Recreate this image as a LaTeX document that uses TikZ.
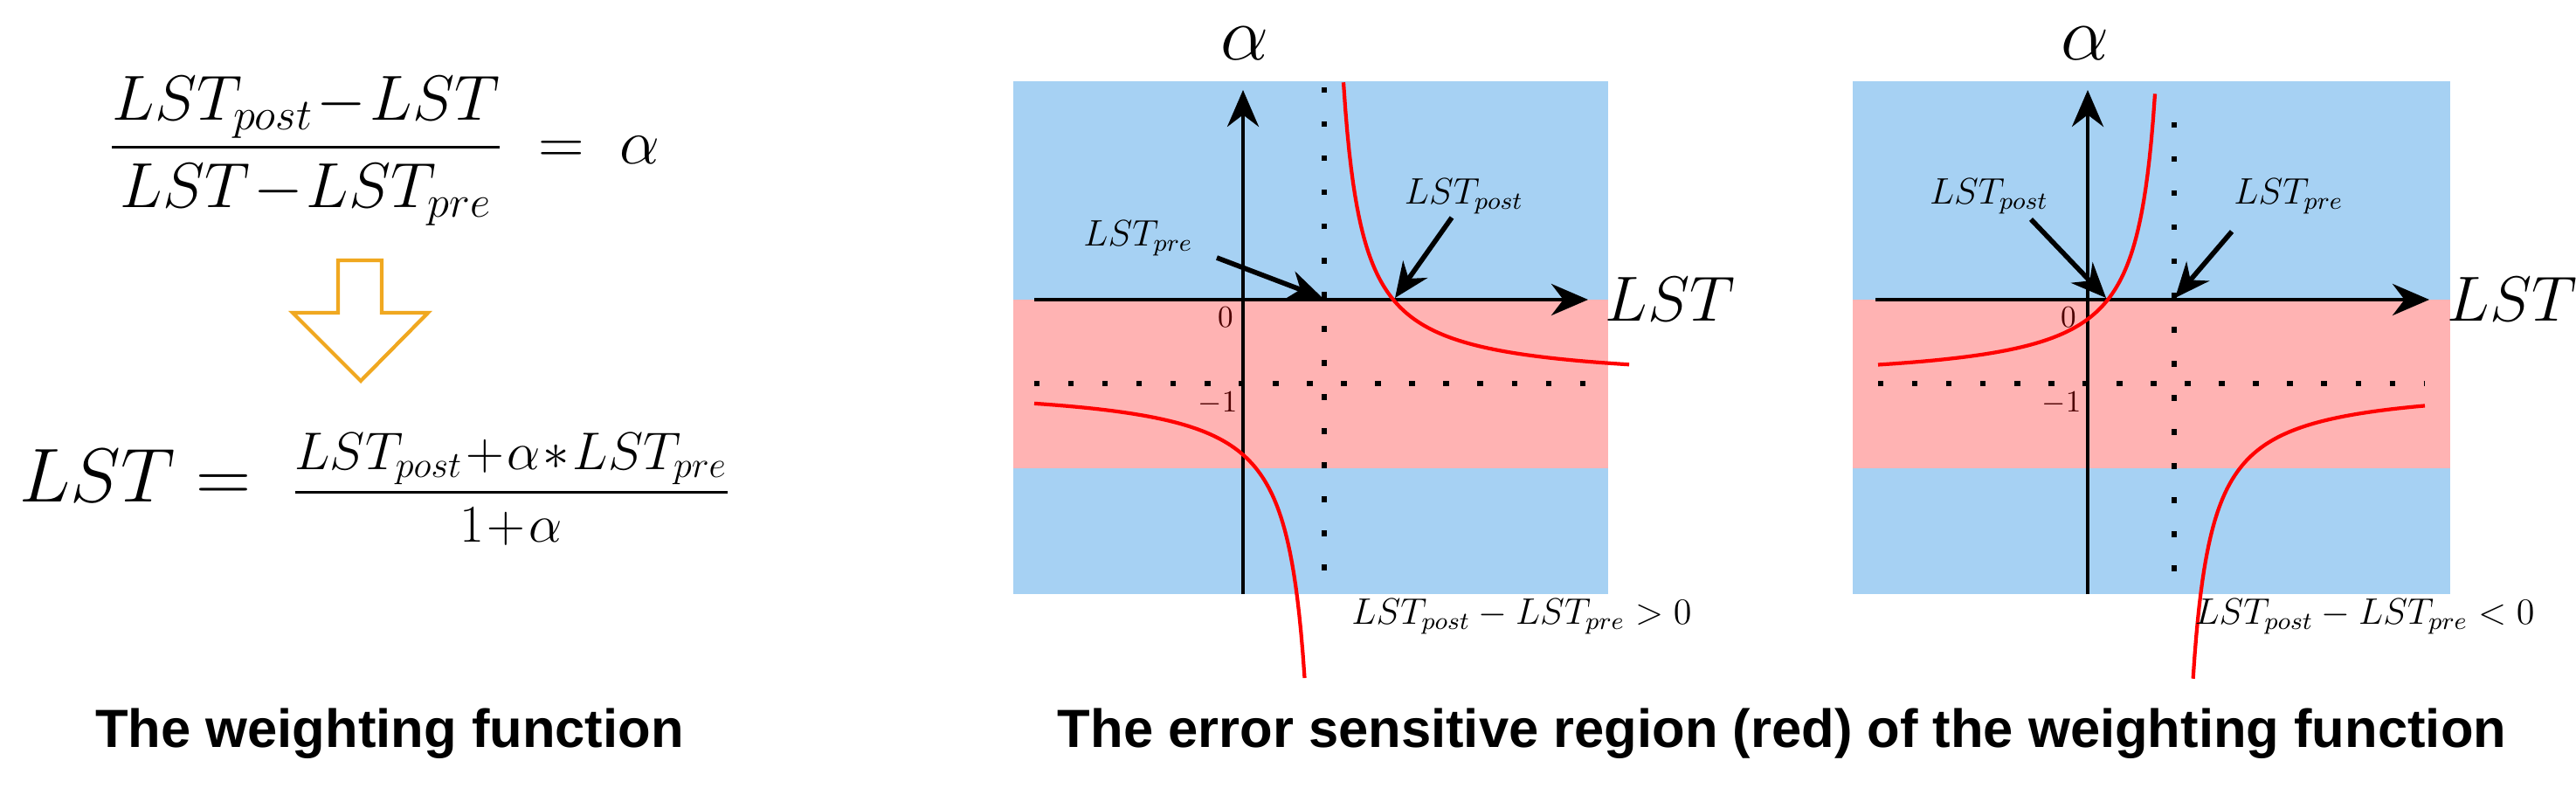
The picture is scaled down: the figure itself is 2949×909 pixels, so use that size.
\documentclass[tikz,border=0pt]{standalone}
\usepackage{fontspec}
\usepackage{amsmath}
\newfontfamily\capfont{Liberation Sans}
\usetikzlibrary{arrows.meta}
\definecolor{bluebg}{HTML}{A6D1F3}
\definecolor{redbg}{HTML}{FFB3B3}
\definecolor{arrorange}{HTML}{F0A820}
\tikzset{
  axisline/.style={line width=1.3pt,-{Stealth[length=0.42cm,width=0.36cm]}},
  ptr/.style={line width=1.6pt,-{Stealth[length=0.4cm,width=0.34cm]}},
  dotline/.style={line width=1.8pt,dash pattern=on 1.8pt off 9.3pt},
  curve/.style={red,line width=1.2pt},
  caption/.style={font=\capfont\bfseries\fontsize{17.5}{21}\selectfont},
  small/.style={font=\fontsize{12}{14}\selectfont},
  tick/.style={font=\fontsize{10}{12}\selectfont,text=black!70!red},
}
\begin{document}
\begin{tikzpicture}[x=0.01cm,y=-0.01cm]
\useasboundingbox (0,0) rectangle (2949,909);
% ---- left: the weighting function
\node (f1) at (440,173) {\fontsize{20}{24}\selectfont$\dfrac{LST_{post}\!-\!LST}{LST\!-\!LST_{pre}}\;=\;\alpha$};
\draw[arrorange,line width=1.2pt] (387,298) -- (437,298) -- (437,358) -- (490,358) -- (413,436) -- (335,358) -- (387,358) -- cycle;
\node[anchor=west] (lst) at (10,545) {\fontsize{24}{28}\selectfont$LST=$};
\node (f2) at (585,560) {\fontsize{17.5}{20}\selectfont$\dfrac{LST_{post}\!+\!\alpha\!*\!LST_{pre}}{1\!+\!\alpha}$};
\node[caption] (c1) at (446,840) {The weighting function};
\node[caption] (c2) at (2040,840) {The error sensitive region (red) of the weighting function};
% ---- panel A
\fill[bluebg] (1160,93) rectangle (1841,680);
\fill[redbg] (1160,343) rectangle (1841,536);
\draw[dotline] (1516,100) -- (1516,680);
\draw[dotline] (1184,439) -- (1815,439);
\coordinate (ax0) at (1423,680);
\coordinate (ax1) at (1423,103);
\coordinate (bx0) at (1184,343);
\coordinate (bx1) at (1818,343);
\draw[axisline] (ax0) -- (ax1);
\draw[axisline] (bx0) -- (bx1);
\draw[curve] plot[domain=1538:1865,samples=150] (\x,{439-7584/(\x-1516)});
\draw[curve] plot[domain=1184:1493.5,samples=150] (\x,{439-7584/(\x-1516)});
\node (aA) at (1425,50) {\fontsize{28}{32}\selectfont$\alpha$};
\node (lA) at (1912,343) {\fontsize{22}{26}\selectfont$LST$};
\node[tick] (zA) at (1403,363) {$0$};
\node[tick] (mA) at (1394,462) {$-1$};
\node[small] (preA) at (1303,273) {$LST_{pre}$};
\node[small] (postA) at (1676,225) {$LST_{post}$};
\coordinate (preAt) at (1514,341);
\coordinate (postAt) at (1597,341);
\draw[ptr] (1393,295) -- (preAt);
\draw[ptr] (1662,249) -- (postAt);
\node[small] (condA) at (1742,706) {$LST_{post}-LST_{pre}>0$};
% ---- panel B
\fill[bluebg] (2121,93) rectangle (2805,680);
\fill[redbg] (2121,343) rectangle (2805,536);
\draw[dotline] (2489,140) -- (2489,680);
\draw[dotline] (2150,439) -- (2776,439);
\coordinate (cx0) at (2390,680);
\coordinate (cx1) at (2390,103);
\coordinate (dx0) at (2147,343);
\coordinate (dx1) at (2781,343);
\draw[axisline] (cx0) -- (cx1);
\draw[axisline] (dx0) -- (dx1);
\draw[curve] plot[domain=2150:2467,samples=150] (\x,{439+7296/(\x-2489)});
\draw[curve] plot[domain=2510.6:2776,samples=150] (\x,{439+7296/(\x-2489)});
\node (aB) at (2387,50) {\fontsize{28}{32}\selectfont$\alpha$};
\node (lB) at (2876,343) {\fontsize{22}{26}\selectfont$LST$};
\node[tick] (zB) at (2368,363) {$0$};
\node[tick] (mB) at (2360,462) {$-1$};
\node[small] (postB) at (2277,225) {$LST_{post}$};
\node[small] (preB) at (2620,225) {$LST_{pre}$};
\coordinate (postBt) at (2411,341);
\coordinate (preBt) at (2490,341);
\draw[ptr] (2325,251) -- (postBt);
\draw[ptr] (2555,265) -- (preBt);
\node[small] (condB) at (2707,706) {$LST_{post}-LST_{pre}<0$};
\end{tikzpicture}
\end{document}
